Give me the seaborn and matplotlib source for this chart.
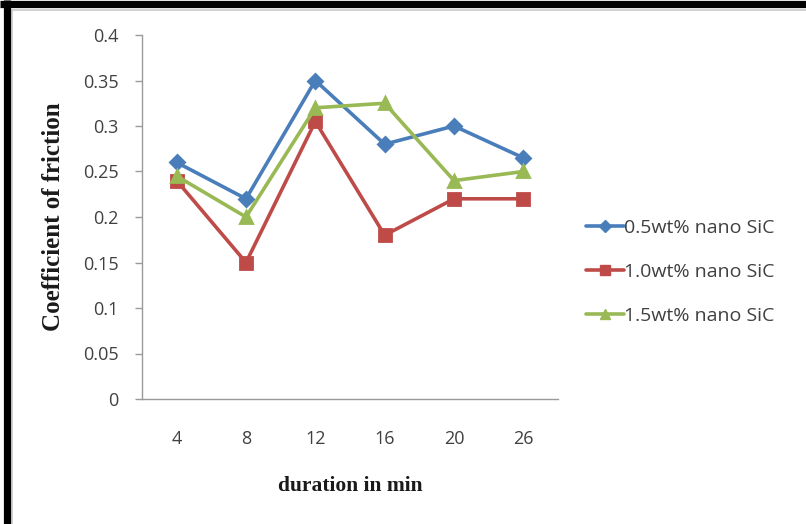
import matplotlib
matplotlib.use("Agg")
import matplotlib.pyplot as plt
from matplotlib.lines import Line2D
import numpy as np
import pandas as pd
import seaborn as sns

# Sliding duration (min) and coefficient of friction per SiC loading
durations = ["4", "8", "12", "16", "20", "26"]
series_names = ["0.5wt% nano SiC", "1.0wt% nano SiC", "1.5wt% nano SiC"]
cof_05 = [0.26, 0.22, 0.35, 0.28, 0.30, 0.265]
cof_10 = [0.24, 0.15, 0.305, 0.18, 0.22, 0.22]
cof_15 = [0.245, 0.20, 0.32, 0.325, 0.24, 0.25]
y_ticks = [0, 0.05, 0.1, 0.15, 0.2, 0.25, 0.3, 0.35, 0.4]

colors = ["#4A7EBB", "#BE4B48", "#98B954"]
markers = ["D", "s", "^"]

df = pd.DataFrame({
    "duration": durations * 3,
    "cof": cof_05 + cof_10 + cof_15,
    "series": [s for s in series_names for _ in durations],
})

sns.set_style("white")
plt.rcParams["font.family"] = ["Open Sans", "DejaVu Sans"]

fig = plt.figure(figsize=(8.06, 5.24), dpi=100)
ax = fig.add_axes([142 / 806, 125 / 524, 416 / 806, 364 / 524])

sns.pointplot(
    data=df, x="duration", y="cof", hue="series", order=durations,
    hue_order=series_names, palette=colors, markers=markers,
    linestyles="-", errorbar=None, ax=ax, legend=False,
)
for line, mk in zip(ax.lines, markers):
    line.set_linewidth(2.6)
    line.set_markersize(8.5 if mk != "D" else 7.5)

ax.set_xlim(-0.5, len(durations) - 0.5)
ax.set_ylim(0, 0.4)
ax.set_yticks(y_ticks)
ax.set_yticklabels([f"{v:g}" for v in y_ticks])

for side in ["top", "right"]:
    ax.spines[side].set_visible(False)
for side in ["left", "bottom"]:
    ax.spines[side].set_color("#9a9a9a")
    ax.spines[side].set_linewidth(1.0)

ax.tick_params(axis="y", left=True, length=5, width=1, color="#9a9a9a",
               labelsize=13, labelcolor="#404040", pad=12)
ax.tick_params(axis="x", bottom=False, labelsize=13, labelcolor="#404040", pad=19)

ax.set_xlabel("duration in min", family="Liberation Serif", fontweight="bold",
              fontsize=15.5, color="#1a1a1a", labelpad=20)
ax.set_ylabel("Coefficient of friction", family="Liberation Serif", fontweight="bold",
              fontsize=18, color="#1a1a1a", labelpad=13)

handles = [
    Line2D([], [], color=c, marker=m, lw=2.6, markersize=7 if m != "D" else 6)
    for c, m in zip(colors, markers)
]
fig.legend(handles, series_names, loc="upper left",
           bbox_to_anchor=(568 / 806, 1 - 201 / 524), frameon=False,
           fontsize=14, handlelength=2.0, handletextpad=0.0,
           labelspacing=1.35, labelcolor="#404040")

# Page frame: thin gray inner lines with heavy black top and left edges
fig.add_artist(Line2D([12 / 806, 12 / 806], [0, 1 - 10 / 524], transform=fig.transFigure,
                      color="#c8c8c8", lw=1.2))
fig.add_artist(Line2D([12 / 806, 1], [1 - 10 / 524, 1 - 10 / 524], transform=fig.transFigure,
                      color="#c8c8c8", lw=1.2))
fig.add_artist(Line2D([0, 1], [1 - 3.5 / 524, 1 - 3.5 / 524], transform=fig.transFigure,
                      color="black", lw=5.2, solid_capstyle="butt"))
fig.add_artist(Line2D([6.5 / 806, 6.5 / 806], [0, 1], transform=fig.transFigure,
                      color="black", lw=5.2, solid_capstyle="butt"))

fig.savefig("out.png", dpi=100, facecolor="white")
